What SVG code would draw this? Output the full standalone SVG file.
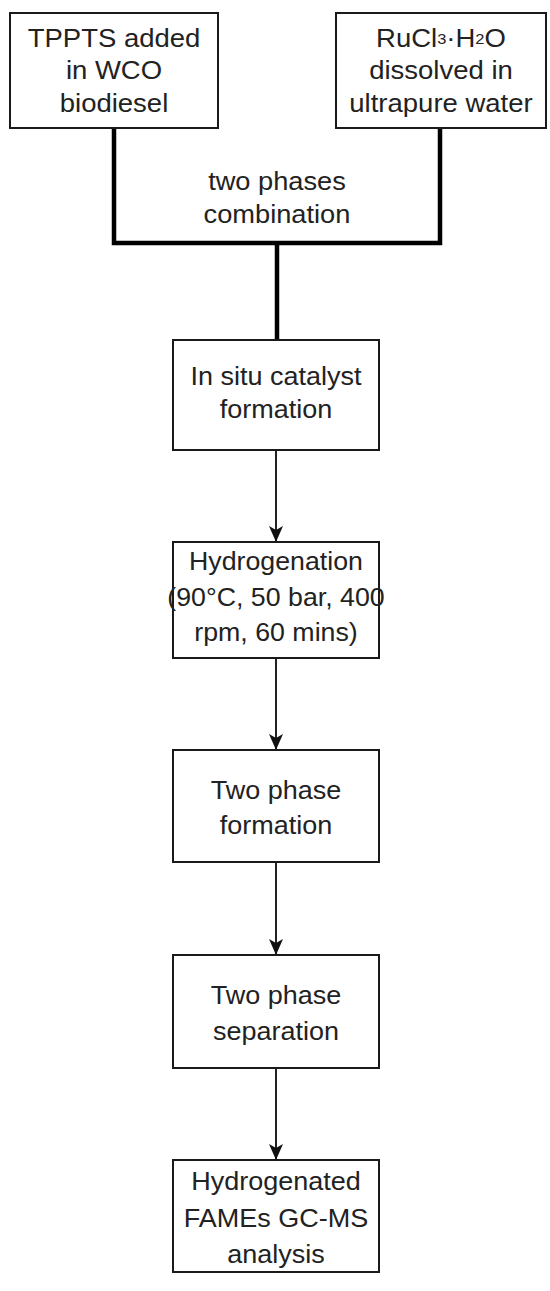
<svg xmlns="http://www.w3.org/2000/svg" width="550" height="1291" viewBox="0 0 550 1291">
<style>
.box{fill:#fff;stroke:#1a1a1a;stroke-width:2}
.t{font-family:"Liberation Sans",Arial,sans-serif;font-size:25px;fill:#222;text-anchor:middle;dominant-baseline:central}
.thick{fill:none;stroke:#000;stroke-width:4.5}
.arr{fill:none;stroke:#222;stroke-width:2}
</style>
<defs>
<marker id="ah" markerWidth="20" markerHeight="20" refX="16" refY="8" orient="auto" markerUnits="userSpaceOnUse">
<path d="M0,1 L16,8 L0,15 L4,8 Z" fill="#111"/>
</marker>
</defs>
<rect width="550" height="1291" fill="#fff"/>
<g id="connectors">
<path class="thick" d="M114,128 V243 H440 V128"/>
<path class="thick" d="M277,243 V340"/>
<text class="t" transform="translate(277 0) scale(1.09 1)" x="0" y="181">two phases</text>
<text class="t" transform="translate(277 0) scale(1.09 1)" x="0" y="214">combination</text>
<path class="arr" d="M276,450 V542" marker-end="url(#ah)"/>
<path class="arr" d="M276,658 V750" marker-end="url(#ah)"/>
<path class="arr" d="M276,862 V955" marker-end="url(#ah)"/>
<path class="arr" d="M276,1068 V1160" marker-end="url(#ah)"/>
</g>
<g id="n1">
<rect class="box" x="10" y="13" width="208" height="115"/>
<text class="t" transform="translate(114 0) scale(1.1 1)" x="0" y="38">TPPTS added</text>
<text class="t" transform="translate(114 0) scale(1.1 1)" x="0" y="70">in WCO</text>
<text class="t" transform="translate(114 0) scale(1.1 1)" x="0" y="103">biodiesel</text>
</g>
<g id="n2">
<rect class="box" x="336" y="13" width="210" height="115"/>
<text class="t" transform="translate(441 0) scale(1.1 1)" x="0" y="38">RuCl<tspan font-size="15">3</tspan>·H<tspan font-size="15">2</tspan>O</text>
<text class="t" transform="translate(441 0) scale(1.1 1)" x="0" y="70">dissolved in</text>
<text class="t" transform="translate(441 0) scale(1.1 1)" x="0" y="103">ultrapure water</text>
</g>
<g id="n3">
<rect class="box" x="173" y="340" width="206" height="110"/>
<text class="t" transform="translate(276 0) scale(1.08 1)" x="0" y="376">In situ catalyst</text>
<text class="t" transform="translate(276 0) scale(1.08 1)" x="0" y="409">formation</text>
</g>
<g id="n4">
<rect class="box" x="173" y="542" width="206" height="116"/>
<text class="t" transform="translate(276 0) scale(1.07 1)" x="0" y="561">Hydrogenation</text>
<text class="t" transform="translate(276 0) scale(1.07 1)" x="0" y="597">(90°C, 50 bar, 400</text>
<text class="t" transform="translate(276 0) scale(1.07 1)" x="0" y="632">rpm, 60 mins)</text>
</g>
<g id="n5">
<rect class="box" x="173" y="750" width="206" height="112"/>
<text class="t" transform="translate(276 0) scale(1.08 1)" x="0" y="790">Two phase</text>
<text class="t" transform="translate(276 0) scale(1.08 1)" x="0" y="825">formation</text>
</g>
<g id="n6">
<rect class="box" x="173" y="955" width="206" height="113"/>
<text class="t" transform="translate(276 0) scale(1.08 1)" x="0" y="995">Two phase</text>
<text class="t" transform="translate(276 0) scale(1.08 1)" x="0" y="1031">separation</text>
</g>
<g id="n7">
<rect class="box" x="173" y="1160" width="206" height="112"/>
<text class="t" transform="translate(276 0) scale(1.08 1)" x="0" y="1181">Hydrogenated</text>
<text class="t" transform="translate(276 0) scale(1.08 1)" x="0" y="1218">FAMEs GC-MS</text>
<text class="t" transform="translate(276 0) scale(1.08 1)" x="0" y="1254">analysis</text>
</g>
</svg>
